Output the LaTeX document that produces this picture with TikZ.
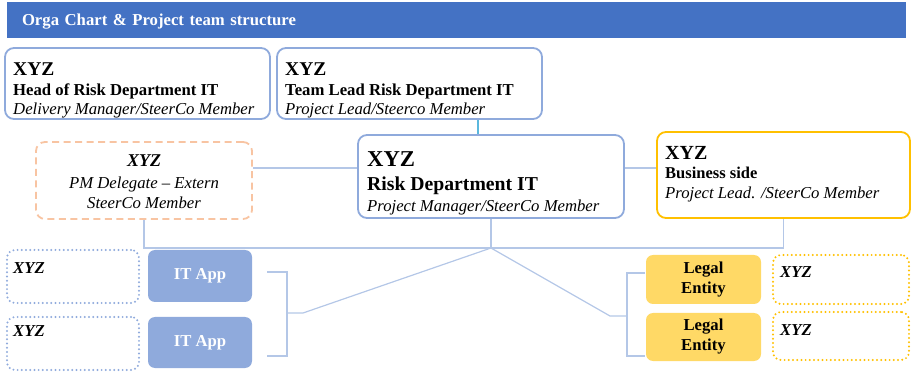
\documentclass[tikz,border=0pt]{standalone}
\usepackage{fontspec}
\setmainfont{Liberation Serif}
\begin{document}
\begin{tikzpicture}[x=1pt,y=-1pt,
  hdrbox/.style={fill=hdrblue,draw=none,minimum height=36pt,text width=869pt,inner xsep=15pt,inner ysep=0pt,
    text height=11pt,text depth=0pt,align=left,text=white,font=\fontsize{16.7}{18}\selectfont\bfseries},
  rolebox/.style={draw=boxblue,line width=1.8pt,rounded corners=9pt,inner sep=0pt},
  pmbox/.style={draw=peach,line width=1.8pt,rounded corners=9pt,dash pattern=on 7pt off 4.5pt,inner sep=0pt},
  bizbox/.style={draw=gold,line width=1.8pt,rounded corners=9pt,inner sep=0pt},
  boxtext/.style={anchor=north west,inner sep=0pt,align=left},
  appbox/.style={fill=boxblue,draw=none,rounded corners=7pt,minimum width=104pt,inner sep=0pt,text=white,font=\fontsize{16.7}{18}\selectfont\bfseries},
  legalbox/.style={fill=legal,draw=none,rounded corners=7pt,minimum width=115pt,inner sep=0pt,align=center,font=\fontsize{16.7}{20}\selectfont\bfseries},
  dotbox/.style={line width=2.2pt,dash pattern=on 0pt off 4.2pt,line cap=round,rounded corners=8pt,inner sep=0pt},
  xyzlabel/.style={anchor=base west,inner sep=0pt,font=\fontsize{16.7}{18}\selectfont\bfseries\itshape},
  link/.style={draw=linkblue,line width=1.2pt}
]
\definecolor{hdrblue}{HTML}{4472C4}
\definecolor{boxblue}{HTML}{8FAADC}
\definecolor{linkblue}{HTML}{B4C7E7}
\definecolor{cyanlink}{HTML}{5BB8DE}
\definecolor{peach}{HTML}{F8C4A2}
\definecolor{gold}{HTML}{FFC000}
\definecolor{legal}{HTML}{FFD966}

\useasboundingbox (0,0) rectangle (911,374);

% title bar
\node[hdrbox] (hdr) at (456.5,20) {Orga Chart \& Project team structure};

% management row
\node[rolebox,minimum width=265pt,minimum height=71pt] (head) at (137.5,83.5) {};
\node[boxtext,font=\fontsize{16.7}{19}\selectfont] (headtxt) at (13,60)
  {\rule{0pt}{15pt}{\fontsize{19.5}{19}\selectfont\bfseries XYZ}\\[1.5pt]
   {\bfseries Head of Risk Department IT}\\
   {\itshape Delivery Manager/SteerCo Member}};
\node[rolebox,minimum width=265pt,minimum height=71pt] (lead) at (409.5,83.5) {};
\node[boxtext,font=\fontsize{16.7}{19}\selectfont] (leadtxt) at (285,60)
  {\rule{0pt}{15pt}{\fontsize{19.5}{19}\selectfont\bfseries XYZ}\\[1.5pt]
   {\bfseries Team Lead Risk Department IT}\\
   {\itshape Project Lead/Steerco Member}};

% project manager row
\node[rolebox,minimum width=266pt,minimum height=83pt] (pm) at (491,176.5) {};
\node[boxtext,font=\fontsize{16.7}{20.5}\selectfont] (pmtxt) at (367,151)
  {\rule{0pt}{15pt}{\fontsize{22.7}{20.5}\selectfont\bfseries XYZ}\\[4pt]
   {\fontsize{19.7}{20.5}\selectfont\bfseries Risk Department IT}\\
   {\itshape Project Manager/SteerCo Member}};
\node[pmbox,minimum width=216pt,minimum height=77pt] (dlg) at (144,180.5) {};
\node[boxtext,anchor=north,align=center,font=\fontsize{16.7}{20}\selectfont\itshape] (dlgtxt) at (144,151)
  {\rule{0pt}{15pt}{\fontsize{18}{20}\selectfont\bfseries XYZ}\\[2pt]
   PM Delegate -- Extern\\
   SteerCo Member};
\node[bizbox,minimum width=253pt,minimum height=86pt] (biz) at (783.5,175) {};
\node[boxtext,font=\fontsize{16.7}{20}\selectfont] (biztxt) at (665,144)
  {\rule{0pt}{15pt}{\fontsize{20}{20}\selectfont\bfseries XYZ}\\[-1pt]
   {\fontsize{16.5}{20}\selectfont\bfseries Business side}\\
   {\itshape Project Lead. /SteerCo Member}};

% applications and legal entities
\node[appbox,minimum height=52pt] (app1) at (200,276) {IT App};
\node[appbox,minimum height=51pt] (app2) at (200,342.5) {IT App};
\node[legalbox,minimum height=49pt] (le1) at (703.5,279.5) {Legal\\Entity};
\node[legalbox,minimum height=48pt] (le2) at (703.5,337) {Legal\\Entity};

% placeholder boxes
\node[dotbox,draw=boxblue,minimum width=132pt,minimum height=53pt] (ph1) at (73,276.5) {};
\node[dotbox,draw=boxblue,minimum width=132pt,minimum height=53pt] (ph2) at (73,343.5) {};
\node[dotbox,draw=gold,minimum width=136pt,minimum height=49pt] (ph3) at (841,279.5) {};
\node[dotbox,draw=gold,minimum width=136pt,minimum height=48pt] (ph4) at (841,336) {};
\node[xyzlabel] (ph1txt) at (13,274) {XYZ};
\node[xyzlabel] (ph2txt) at (13,337) {XYZ};
\node[xyzlabel] (ph3txt) at (780,278) {XYZ};
\node[xyzlabel] (ph4txt) at (780,335) {XYZ};

% connectors
\coordinate (hub) at (492,248);
\coordinate (lj) at (303,313);
\coordinate (lv) at (287,313);
\coordinate (lt) at (267,272);
\coordinate (lb) at (267,356);
\coordinate (rj) at (610,316);
\coordinate (rv) at (627,316);
\coordinate (rt) at (645,273);
\coordinate (rb) at (645,356);
\coordinate (leadout) at ([xshift=68.5pt]lead.south);
\coordinate (dlgout) at ([yshift=12.5pt]dlg.east);
\coordinate (pmout) at ([yshift=8.5pt]pm.east);

\draw[draw=cyanlink,line width=1.2pt] (leadout) -- (leadout |- pm.north);
\draw[link] (dlgout) -- (pm.west |- dlgout);
\draw[link] (pmout) -- (biz.west |- pmout);
\draw[link] (dlg.south) -- (dlg.south |- hub) -- (biz.south |- hub) -- (biz.south);
\draw[link] (pm.south) -- (pm.south |- hub);
\draw[link] (pm.south |- hub) -- (lj) -- (lv);
\draw[link] (pm.south |- hub) -- (rj) -- (rv);
\draw[link] (lt) -| (lv) |- (lb);
\draw[link] (rt) -| (rv) |- (rb);
\end{tikzpicture}
\end{document}
